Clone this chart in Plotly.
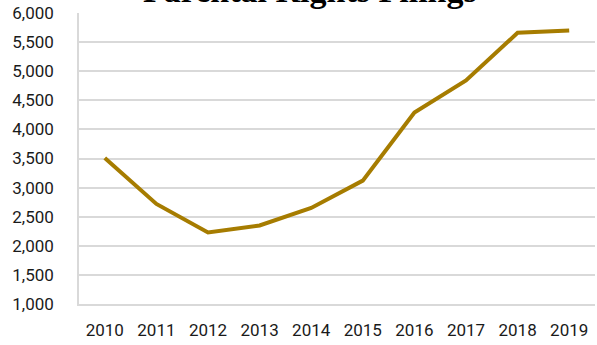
import plotly.graph_objects as go

# Annual parental rights filings
years = ["2010", "2011", "2012", "2013", "2014", "2015", "2016", "2017", "2018", "2019"]
filings = [3510, 2720, 2230, 2350, 2650, 3120, 4290, 4840, 5660, 5700]

# Y axis ticks
y_ticks = [1000, 1500, 2000, 2500, 3000, 3500, 4000, 4500, 5000, 5500, 6000]
y_tick_text = [f"{v:,}" for v in y_ticks]

line_color = "#A67C00"
grid_color = "#D9D9D9"
tick_font = dict(family="Liberation Sans Narrow, Roboto, sans-serif", size=17, color="#1a1a1a")

fig = go.Figure(
    go.Scatter(
        x=years,
        y=filings,
        mode="lines",
        line=dict(color=line_color, width=4),
        hoverinfo="x+y",
    )
)

fig.update_layout(
    width=597,
    height=345,
    margin=dict(l=79, r=2, t=13, b=41, autoexpand=False),
    paper_bgcolor="white",
    plot_bgcolor="white",
    showlegend=False,
    annotations=[
        dict(
            text="<b>Parental Rights Filings</b>",
            xref="paper",
            yref="paper",
            x=0.448,
            y=1.079,
            xanchor="center",
            yanchor="middle",
            showarrow=False,
            font=dict(family="Liberation Serif, DejaVu Serif, serif", size=34, color="black"),
        )
    ],
)

fig.update_xaxes(
    type="category",
    range=[-0.5, 9.5],
    automargin=False,
    showgrid=False,
    showline=True,
    linecolor=grid_color,
    linewidth=1.5,
    ticks="",
    tickfont=tick_font,
    ticklabelstandoff=10,
)

fig.update_yaxes(
    range=[1000, 6000],
    automargin=False,
    tickvals=y_ticks,
    ticktext=y_tick_text,
    showgrid=True,
    gridcolor=grid_color,
    gridwidth=1.5,
    showline=True,
    linecolor=grid_color,
    linewidth=1.5,
    zeroline=False,
    ticks="",
    tickfont=tick_font,
    ticklabelstandoff=20,
)

fig.write_html("out.html")
